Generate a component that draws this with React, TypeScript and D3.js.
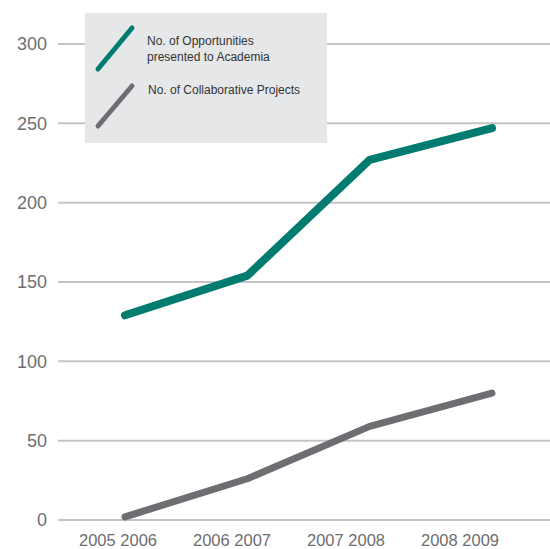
import { useEffect } from 'react'
import { scaleLinear, scalePoint, line } from 'd3'

const categories = ['2005 2006', '2006 2007', '2007 2008', '2008 2009']
const opportunities = [129, 154, 227, 247]
const projects = [2, 26, 59, 80]
const yTicks = [0, 50, 100, 150, 200, 250, 300]

const width = 550
const height = 549
const green = '#007b6f'
const gray = '#6d6e71'

const y = scaleLinear().domain([0, 300]).range([520, 44])
const xLine = scalePoint().domain(categories).range([125, 492])
const xLabel = scalePoint().domain(categories).range([118, 460])

function App() {
  useEffect(() => {
    document.body.style.margin = '0'
  }, [])

  const path = line<number>()
    .x((_, i) => xLine(categories[i]) as number)
    .y((d) => y(d))

  return (
    <svg width={width} height={height} style={{ display: 'block' }} fontFamily="'Liberation Sans', Arial, sans-serif">
      <rect width={width} height={height} fill="#fff" />
      {yTicks.map((t) => (
        <g key={t}>
          <line x1={58} x2={550} y1={y(t)} y2={y(t)} stroke="#c4c4c6" strokeWidth={2} />
          <text x={47} y={y(t)} dy="0.35em" textAnchor="end" fontSize={18} fill={gray}>
            {t}
          </text>
        </g>
      ))}
      {categories.map((c) => (
        <text key={c} x={xLabel(c)} y={546} textAnchor="middle" fontSize={16.5} fill={gray}>
          {c}
        </text>
      ))}

      <rect x={85} y={13} width={242} height={130} fill="#e6e7e8" />
      <line x1={98} y1={69} x2={132} y2={28} stroke={green} strokeWidth={5} strokeLinecap="round" />
      <line x1={98} y1={126} x2={132} y2={86} stroke={gray} strokeWidth={5} strokeLinecap="round" />
      <text x={147} y={45} fontSize={12} fill="#333">No. of Opportunities</text>
      <text x={147} y={61} fontSize={12} fill="#333">presented to Academia</text>
      <text x={148} y={94} fontSize={12} fill="#333">No. of Collaborative Projects</text>

      <path d={path(opportunities) ?? ''} fill="none" stroke={green} strokeWidth={8} strokeLinecap="round" strokeLinejoin="round" />
      <path d={path(projects) ?? ''} fill="none" stroke={gray} strokeWidth={7} strokeLinecap="round" strokeLinejoin="round" />
    </svg>
  )
}

export default App
